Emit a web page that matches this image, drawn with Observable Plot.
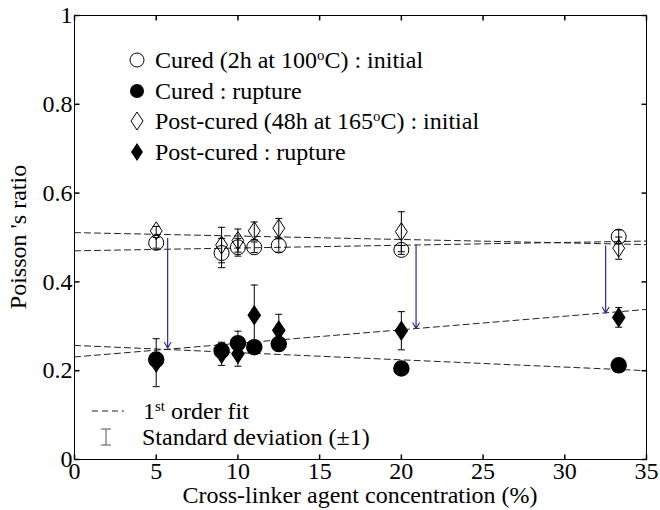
<!DOCTYPE html>
<html><head><meta charset="utf-8">
<script src="https://cdn.jsdelivr.net/npm/d3@7"></script>
<script src="https://cdn.jsdelivr.net/npm/@observablehq/plot@0.6"></script>
<style>body{margin:0;background:#fff}</style>
</head><body><div id="chart"></div>
<script>
const conc = [5, 9, 10, 11, 12.5, 20, 33.3];
const curedInitial   = [0.488, 0.465, 0.478, 0.478, 0.482, 0.472, 0.502];
const curedInitialSd = [0.012, 0.033, 0.020, 0.012, 0.015, 0.010, 0.015];
const curedRupture   = [0.225, 0.245, 0.262, 0.253, 0.260, 0.205, 0.212];
const curedRuptureSd = [0.010, 0.010, 0.027, 0.010, 0.010, 0.010, 0.008];
const postInitial    = [0.515, 0.483, 0.493, 0.515, 0.521, 0.513, 0.476];
const postInitialSd  = [0.010, 0.040, 0.026, 0.020, 0.022, 0.045, 0.025];
const postRupture    = [0.218, 0.238, 0.238, 0.325, 0.291, 0.290, 0.320];
const postRuptureSd  = [0.054, 0.026, 0.028, 0.068, 0.036, 0.043, 0.022];
const fitX = [0, 35];
const curedInitialFit = [0.470, 0.492];
const postInitialFit  = [0.511, 0.484];
const curedRuptureFit = [0.257, 0.200];
const postRuptureFit  = [0.231, 0.338];
const arrowX    = [5.7, 20.9, 32.5];
const arrowFrom = [0.498, 0.483, 0.481];
const arrowTo   = [0.251, 0.295, 0.330];
const xTicks = [0, 5, 10, 15, 20, 25, 30, 35];
const yTicks = [0, 0.2, 0.4, 0.6, 0.8, 1];

const FONT = "'Liberation Serif', 'Times New Roman', serif";
const FS = 24;

const diamond = {draw(ctx, size) { const h = Math.sqrt(size / Math.PI) * 1.2, w = h * 0.66;
  ctx.moveTo(0, -h); ctx.lineTo(w, 0); ctx.lineTo(0, h); ctx.lineTo(-w, 0); ctx.closePath(); }};
const cap = {draw(ctx) { ctx.moveTo(-3.5, 0); ctx.lineTo(3.5, 0); }};
const tickUp = {draw(ctx) { ctx.moveTo(0, 0); ctx.lineTo(0, -5); }};
const tickDown = {draw(ctx) { ctx.moveTo(0, 0); ctx.lineTo(0, 5); }};
const tickRight = {draw(ctx) { ctx.moveTo(0, 0); ctx.lineTo(5, 0); }};
const tickLeft = {draw(ctx) { ctx.moveTo(0, 0); ctx.lineTo(-5, 0); }};

const rowsOf = (vals, sds) => conc.map((x, i) => ({x, v: vals[i], sd: sds[i]}));
const ci = rowsOf(curedInitial, curedInitialSd);
const cr = rowsOf(curedRupture, curedRuptureSd);
const pi = rowsOf(postInitial, postInitialSd);
const pr = rowsOf(postRupture, postRuptureSd);
const all = [...ci, ...cr, ...pi, ...pr];
const fitRows = f => fitX.map((x, i) => ({x, y: f[i]}));
const arrows = arrowX.map((x, i) => ({x, y1: arrowFrom[i], y2: arrowTo[i]}));

const dash = {x: "x", y: "y", stroke: "#222", strokeWidth: 1, strokeDasharray: "6,4"};

const svg = Plot.plot({
  width: 660, height: 510,
  marginLeft: 74, marginRight: 14, marginTop: 15, marginBottom: 51,
  x: {domain: [0, 35]},
  y: {domain: [0, 1]},
  style: {fontFamily: FONT, fontSize: FS + "px", background: "white", color: "black"},
  marks: [
    Plot.line(fitRows(curedInitialFit), dash),
    Plot.line(fitRows(postInitialFit), dash),
    Plot.line(fitRows(curedRuptureFit), dash),
    Plot.line(fitRows(postRuptureFit), dash),
    Plot.ruleX(all, {x: "x", y1: d => d.v - d.sd, y2: d => d.v + d.sd, stroke: "black", strokeWidth: 1}),
    Plot.dot(all, {x: "x", y: d => d.v - d.sd, symbol: cap, stroke: "black", strokeWidth: 1}),
    Plot.dot(all, {x: "x", y: d => d.v + d.sd, symbol: cap, stroke: "black", strokeWidth: 1}),
    Plot.dot(ci, {x: "x", y: "v", r: 7.5, fill: "none", stroke: "black", strokeWidth: 1}),
    Plot.dot(cr, {x: "x", y: "v", r: 7.5, fill: "black", stroke: "black"}),
    Plot.dot(pi, {x: "x", y: "v", r: 7.5, symbol: diamond, fill: "none", stroke: "black", strokeWidth: 1}),
    Plot.dot(pr, {x: "x", y: "v", r: 7.5, symbol: diamond, fill: "black", stroke: "black"}),
    Plot.arrow(arrows, {x1: "x", x2: "x", y1: "y1", y2: "y2", stroke: "#2b2b9c", strokeWidth: 1.2, headLength: 8}),
    Plot.frame({stroke: "black", strokeWidth: 1}),
    Plot.dot(xTicks, {x: d => d, y: () => 0, symbol: tickUp, stroke: "black"}),
    Plot.dot(xTicks, {x: d => d, y: () => 1, symbol: tickDown, stroke: "black"}),
    Plot.dot(yTicks, {y: d => d, x: () => 0, symbol: tickRight, stroke: "black"}),
    Plot.dot(yTicks, {y: d => d, x: () => 35, symbol: tickLeft, stroke: "black"}),
    Plot.axisX(xTicks, {tickSize: 0, tickPadding: 2, label: null, fontSize: FS, tickFormat: d => String(d)}),
    Plot.axisY(yTicks, {tickSize: 0, tickPadding: 2, label: null, fontSize: FS, tickFormat: d => String(d)})
  ]
});

const g = d3.select(svg).append("g").attr("font-family", FONT).attr("font-size", FS)
  .attr("fill", "black").attr("text-anchor", "start");
// axis labels
g.append("text").attr("x", 360).attr("y", 503).attr("text-anchor", "middle")
  .text("Cross-linker agent concentration (%)");
g.append("text").attr("transform", "translate(26,237) rotate(-90)").attr("text-anchor", "middle")
  .text("Poisson 's ratio");

// legend
const lx = 137, tx = 155, rows = [60, 91, 121, 152];
const leg = g.append("g").attr("text-anchor", "start");
leg.append("circle").attr("cx", lx).attr("cy", rows[0]).attr("r", 7).attr("fill", "none").attr("stroke", "black");
leg.append("circle").attr("cx", lx).attr("cy", rows[1]).attr("r", 7).attr("fill", "black");
const dpath = (cx, cy) => `M${cx},${cy - 9}L${cx + 6},${cy}L${cx},${cy + 9}L${cx - 6},${cy}Z`;
leg.append("path").attr("d", dpath(lx, rows[2])).attr("fill", "none").attr("stroke", "black");
leg.append("path").attr("d", dpath(lx, rows[3])).attr("fill", "black");
function legText(x, y, parts) {
  const t = leg.append("text").attr("x", x).attr("y", y).attr("dy", "0.35em").attr("text-anchor", "start");
  parts.forEach(p => {
    const s = t.append("tspan").text(p[0]);
    if (p[1]) s.attr("baseline-shift", "super").attr("font-size", "62%");
  });
}
legText(tx, rows[0], [["Cured (2h at 100"], ["o", 1], ["C) : initial"]]);
legText(tx, rows[1], [["Cured : rupture"]]);
legText(tx, rows[2], [["Post-cured (48h at 165"], ["o", 1], ["C) : initial"]]);
legText(tx, rows[3], [["Post-cured : rupture"]]);

// bottom legend
leg.append("line").attr("x1", 92).attr("x2", 124).attr("y1", 411).attr("y2", 411)
  .attr("stroke", "#222").attr("stroke-dasharray", "6,4");
legText(143, 411, [["1"], ["st", 1], [" order fit"]]);
leg.append("path").attr("d", "M101,429H111M106,429V445M101,445H111").attr("stroke", "#555").attr("fill", "none");
legText(142, 437, [["Standard deviation (\u00b11)"]]);

document.getElementById("chart").appendChild(svg);
</script>
</body></html>
